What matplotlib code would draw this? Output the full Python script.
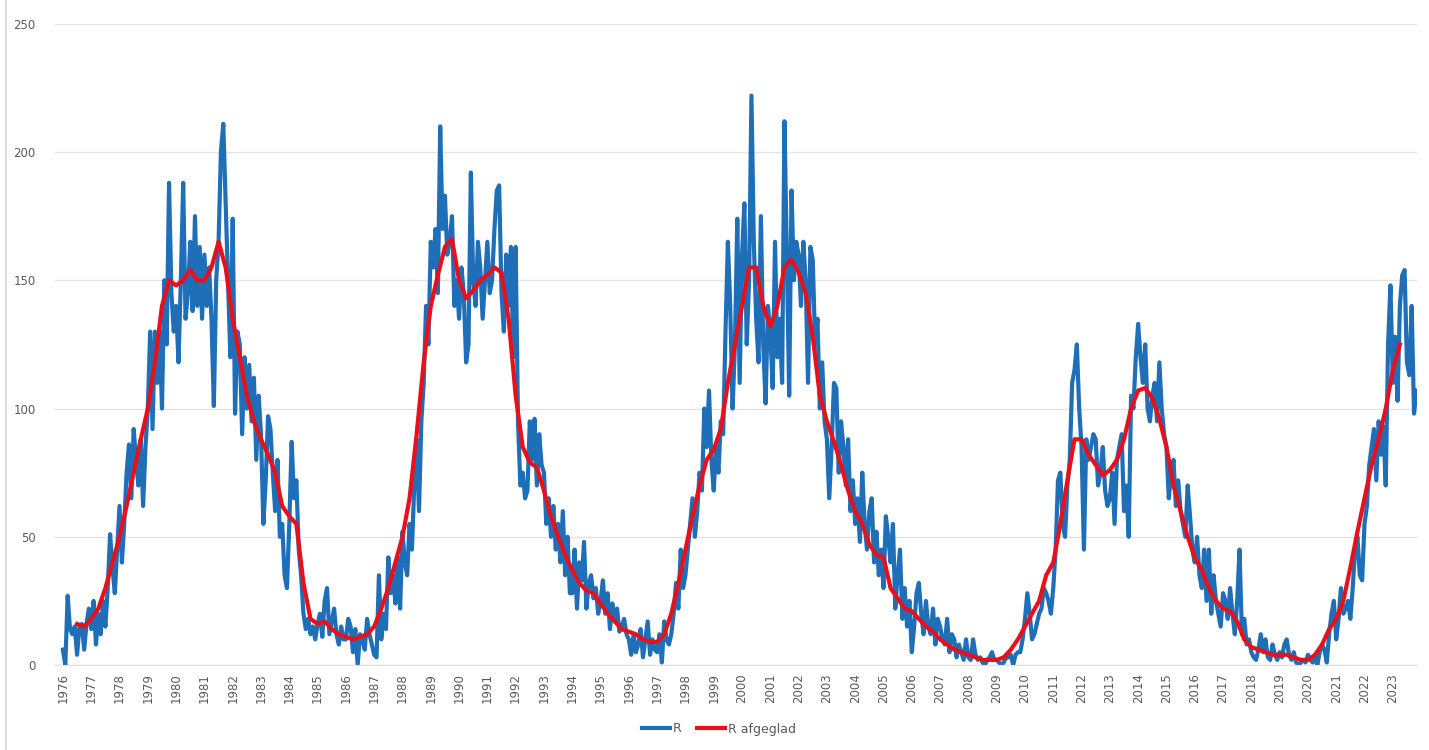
import matplotlib.pyplot as plt
import numpy as np

# maandwaarden R, per jaar een rij (jan..dec), vanaf 1976
start_year = 1976
r_values = [
    6, 0, 27, 14, 12, 15, 4, 15, 16, 6, 16, 22,            # 1976
    14, 25, 8, 20, 12, 25, 15, 30, 51, 38, 28, 45,         # 1977
    62, 40, 55, 75, 86, 65, 92, 80, 70, 88, 62, 85,        # 1978
    100, 130, 92, 130, 110, 130, 100, 150, 125, 188, 145, 130,  # 1979
    140, 118, 150, 188, 135, 145, 165, 138, 175, 140, 163, 135,  # 1980
    160, 140, 155, 135, 101, 150, 165, 200, 211, 180, 150, 120,  # 1981
    174, 98, 130, 125, 90, 120, 100, 117, 95, 112, 80, 105,  # 1982
    90, 55, 72, 97, 92, 75, 60, 80, 50, 55, 35, 30,        # 1983
    55, 87, 65, 72, 45, 35, 20, 14, 18, 12, 15, 10,        # 1984
    16, 20, 11, 25, 30, 12, 17, 22, 12, 8, 15, 10,         # 1985
    10, 18, 15, 5, 14, 0, 12, 10, 6, 18, 12, 8,            # 1986
    4, 3, 35, 10, 20, 14, 42, 28, 35, 24, 42, 22,          # 1987
    52, 40, 35, 55, 45, 70, 88, 60, 95, 110, 140, 125,     # 1988
    165, 155, 170, 145, 210, 170, 183, 160, 165, 175, 140, 150,  # 1989
    135, 155, 145, 118, 125, 192, 150, 140, 165, 155, 135, 150,  # 1990
    165, 145, 150, 170, 185, 187, 145, 130, 160, 140, 163, 120,  # 1991
    163, 95, 70, 75, 65, 68, 95, 80, 96, 70, 90, 78,       # 1992
    75, 55, 65, 50, 62, 45, 55, 40, 60, 35, 50, 28,        # 1993
    28, 45, 22, 40, 33, 48, 22, 32, 35, 26, 30, 20,        # 1994
    25, 33, 20, 28, 14, 24, 18, 22, 13, 15, 18, 12,        # 1995
    10, 4, 12, 5, 8, 14, 3, 10, 17, 4, 10, 6,              # 1996
    5, 12, 1, 17, 10, 8, 12, 20, 32, 22, 45, 30,           # 1997
    35, 45, 55, 65, 50, 60, 75, 68, 100, 85, 107, 80,      # 1998
    68, 85, 75, 95, 90, 130, 165, 140, 100, 125, 174, 110,  # 1999
    160, 180, 125, 150, 222, 165, 135, 118, 175, 125, 102, 140,  # 2000
    130, 108, 165, 120, 135, 110, 212, 160, 105, 185, 150, 165,  # 2001
    160, 140, 165, 150, 110, 163, 158, 125, 135, 100, 118, 95,  # 2002
    88, 65, 85, 110, 108, 75, 95, 85, 70, 88, 60, 72,      # 2003
    55, 65, 48, 75, 55, 45, 60, 65, 40, 52, 35, 45,        # 2004
    30, 58, 50, 40, 55, 22, 35, 45, 18, 30, 15, 25,        # 2005
    5, 15, 28, 32, 20, 12, 25, 15, 12, 22, 8, 18,          # 2006
    15, 10, 8, 18, 5, 12, 10, 3, 8, 5, 2, 10,              # 2007
    3, 2, 10, 4, 2, 3, 1, 0, 2, 3, 5, 2,                   # 2008
    2, 1, 0, 1, 3, 3, 4, 0, 4, 5, 5, 10,                   # 2009
    18, 28, 20, 10, 12, 16, 20, 22, 30, 28, 25, 20,        # 2010
    30, 45, 72, 75, 55, 50, 70, 80, 110, 115, 125, 100,    # 2011
    85, 45, 88, 80, 85, 90, 88, 70, 75, 85, 68, 62,        # 2012
    65, 75, 55, 80, 85, 90, 60, 70, 50, 105, 100, 120,     # 2013
    133, 120, 110, 125, 100, 95, 105, 110, 95, 118, 100, 90,  # 2014
    85, 65, 75, 80, 62, 72, 60, 55, 50, 70, 58, 45,        # 2015
    40, 50, 35, 30, 45, 25, 45, 20, 35, 25, 20, 15,        # 2016
    28, 25, 18, 30, 20, 12, 25, 45, 12, 18, 8, 10,         # 2017
    5, 3, 2, 6, 12, 5, 10, 3, 2, 8, 4, 2,                  # 2018
    5, 3, 8, 10, 4, 2, 5, 1, 0, 1, 2, 1,                   # 2019
    4, 2, 1, 3, 0, 5, 8, 6, 1, 12, 20, 25,                 # 2020
    10, 18, 30, 20, 22, 25, 18, 30, 45, 50, 35, 33,        # 2021
    55, 62, 78, 85, 92, 72, 95, 82, 93, 70, 125, 148,      # 2022
    110, 128, 103, 140, 152, 154, 118, 113, 140, 98, 107,  # 2023
]

# afgevlakte waarden, per kwartaal vanaf juli 1976
smooth_start = 1976.5
r_smooth = [
    16, 15,
    18, 22, 30, 40,
    50, 62, 75, 88,
    100, 118, 140, 150,
    148, 150, 154, 150,
    150, 155, 165, 155,
    135, 120, 105, 95,
    88, 82, 75, 62,
    58, 55, 32, 18,
    16, 17, 14, 12,
    11, 10, 11, 12,
    15, 22, 30, 40,
    50, 65, 90, 118,
    140, 152, 163, 166,
    150, 143, 146, 150,
    152, 155, 153, 135,
    105, 85, 79, 77,
    68, 58, 50, 43,
    37, 32, 29, 28,
    24, 20, 17, 14,
    13, 12, 10, 9,
    9, 12, 20, 32,
    45, 58, 70, 80,
    84, 92, 110, 125,
    140, 155, 155, 140,
    132, 140, 155, 158,
    153, 145, 128, 105,
    95, 87, 78, 68,
    60, 55, 47, 43,
    42, 30, 26, 22,
    21, 18, 15, 13,
    10, 8, 6, 5,
    4, 3, 2, 2,
    2, 3, 6, 10,
    15, 20, 25, 35,
    40, 55, 72, 88,
    88, 82, 78, 74,
    76, 80, 88, 100,
    107, 108, 104, 96,
    85, 70, 60, 50,
    42, 37, 30, 25,
    22, 21, 17, 10,
    7, 6, 5, 4,
    4, 4, 3, 2,
    2, 4, 8, 14,
    18, 25, 38, 52,
    65, 78, 88, 100,
    115, 125,
]

years = list(range(1976, 2024))

t_r = start_year + np.arange(len(r_values)) / 12
t_s = smooth_start + np.arange(len(r_smooth)) / 4

fig = plt.figure(figsize=(14.29, 7.5), dpi=100)
ax = fig.add_axes([0.0385, 0.1133, 0.953, 0.855])

ax.plot(t_r, r_values, color='#1f6fb8', linewidth=3, label='R', solid_joinstyle='round')
ax.plot(t_s, r_smooth, color='#e8101a', linewidth=3, label='R afgeglad', solid_joinstyle='round')

ax.set_ylim(0, 250)
ax.set_yticks(np.arange(0, 251, 50))
ax.set_xlim(1975.72, 2023.85)
ax.set_xticks(years)
ax.set_xticklabels([str(y) for y in years], rotation=90)
ax.tick_params(axis='both', length=0, labelsize=8.5, labelcolor='#595959')
ax.tick_params(axis='y', pad=14)
ax.tick_params(axis='x', pad=6)
ax.grid(axis='y', color='#e3e3e3', linewidth=1)
ax.set_axisbelow(True)
for s in ['top', 'right', 'left']:
    ax.spines[s].set_visible(False)
ax.spines['bottom'].set_color('#e3e3e3')

leg = fig.legend(loc='center', bbox_to_anchor=(0.503, 0.972 - 0.0), ncol=2, frameon=False,
                 fontsize=9, handlelength=2.3, columnspacing=1.2, handletextpad=0.2)
leg.set_bbox_to_anchor((0.503, 0.028))
for txt in leg.get_texts():
    txt.set_color('#595959')

# rand van het grafiekgebied
fig.patches.append(plt.Rectangle((0.004, -0.01), 1.5, 1.5, transform=fig.transFigure,
                                 fill=False, edgecolor='#d9d9d9', linewidth=1.2))

fig.savefig('out.png', dpi=100)
